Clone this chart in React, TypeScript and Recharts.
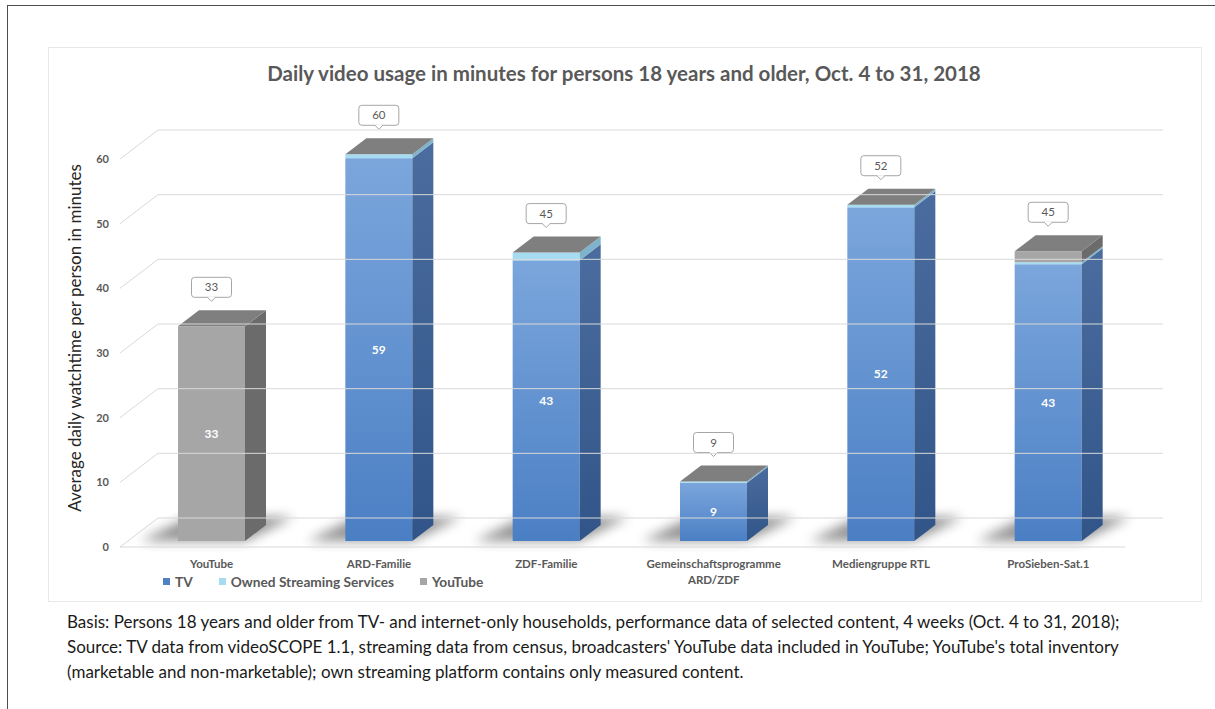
import { Bar, BarChart, XAxis, YAxis } from 'recharts'

const categories = [
	'YouTube',
	'ARD-Familie',
	'ZDF-Familie',
	'Gemeinschaftsprogramme\nARD/ZDF',
	'Mediengruppe RTL',
	'ProSieben-Sat.1',
]
const tvMinutes = [0, 59.2, 43.4, 9.0, 51.6, 42.8]
const ownedStreaming = [0, 0.6, 1.2, 0.2, 0.4, 0.3]
const youtubeMinutes = [33.2, 0, 0, 0, 0, 1.7]
const yTicks = [0, 10, 20, 30, 40, 50, 60]
const seriesNames = ['TV', 'Owned Streaming Services', 'YouTube']

const title = 'Daily video usage in minutes for persons 18 years and older, Oct. 4 to 31, 2018'
const yLabel = 'Average daily watchtime per person in minutes'
const footnote = [
	'Basis: Persons 18 years and older from TV- and internet-only households, performance data of selected content, 4 weeks (Oct. 4 to 31, 2018);',
	"Source: TV data from videoSCOPE 1.1, streaming data from census, broadcasters' YouTube data included in YouTube; YouTube's total inventory",
	'(marketable and non-marketable); own streaming platform contains only measured content.',
]

const data = categories.map((name, i) => ({
	name,
	tv: tvMinutes[i],
	owned: ownedStreaming[i],
	youtube: youtubeMinutes[i],
}))

type Key = 'tv' | 'owned' | 'youtube'
const KEYS: Key[] = ['tv', 'owned', 'youtube']
const DX = 21
const DY = 16
const FONT = 'Lato, "Open Sans", sans-serif'
const GRAY = '#595959'
const GRID = '#d9d9d9'
const FRONT: Record<Key, string> = { tv: 'url(#tvFront)', owned: '#a6dcf2', youtube: '#a6a6a6' }
const SIDE: Record<Key, string> = { tv: 'url(#tvSide)', owned: '#7fb3cb', youtube: '#6b6b6b' }
const LEGEND_COLORS = ['#4f81c4', '#a6dcf2', '#a6a6a6']

const makeShape = (key: Key) => (props: any) => {
	const { x, y, width: w, height: h, payload } = props
	if (!h || h <= 0) return <g />
	const topKey = [...KEYS].reverse().find((k) => payload[k] > 0)
	const bottomKey = KEYS.find((k) => payload[k] > 0)
	const mainKey = KEYS.reduce((a, b) => (payload[b] > payload[a] ? b : a))
	const total = KEYS.reduce((s, k) => s + payload[k], 0)
	const yb = y + h
	const cx = x + w / 2
	const by = y - 29
	return (
		<g>
			{key === bottomKey && (
				<polygon
					points={`${x - 38},${yb} ${x + w},${yb} ${x + w + DX + 28},${yb - 24} ${x + DX - 10},${yb - 24}`}
					fill='#000'
					opacity={0.42}
					filter='url(#shadowBlur)'
				/>
			)}
			<rect x={x} y={y} width={w} height={h} fill={FRONT[key]} />
			<polygon
				points={`${x + w},${y} ${x + w + DX},${y - DY} ${x + w + DX},${yb - DY} ${x + w},${yb}`}
				fill={SIDE[key]}
			/>
			{key === topKey && (
				<g>
					<polygon points={`${x},${y} ${x + DX},${y - DY} ${x + w + DX},${y - DY} ${x + w},${y}`} fill='#7f7f7f' />
					<rect x={cx - 20} y={by - 20} width={40} height={20} rx={3} fill='#fff' stroke='#a6a6a6' />
					<polygon points={`${cx - 4},${by - 0.5} ${cx},${by + 4} ${cx + 4},${by - 0.5}`} fill='#fff' />
					<polyline points={`${cx - 4},${by} ${cx},${by + 4} ${cx + 4},${by}`} fill='none' stroke='#a6a6a6' />
					<text x={cx} y={by - 6} textAnchor='middle' fontSize={11.5} fill={GRAY} fontFamily={FONT}>
						{Math.round(total)}
					</text>
				</g>
			)}
			{key === mainKey && (
				<text
					x={cx}
					y={y + h / 2 + 4}
					textAnchor='middle'
					fontSize={12}
					fontWeight='bold'
					fill='#fff'
					fontFamily={FONT}
				>
					{Math.round(payload[key])}
				</text>
			)}
		</g>
	)
}

const YTick = (props: any) => {
	const { y, payload } = props
	return (
		<g>
			<line x1={120} y1={y + 6} x2={158} y2={y - 23} stroke={GRID} />
			<line x1={158} y1={y - 23} x2={1163} y2={y - 23} stroke={GRID} />
			{payload.value === 0 && <line x1={120} y1={y + 6} x2={1125} y2={y + 6} stroke={GRID} />}
			<text x={109} y={y + 10} textAnchor='end' fontSize={11} fontWeight='bold' fill={GRAY} fontFamily={FONT}>
				{payload.value}
			</text>
		</g>
	)
}

const XTick = (props: any) => {
	const { x, payload } = props
	const lines = String(payload.value).split('\n')
	return (
		<text x={x} y={568} textAnchor='middle' fontSize={11.5} fontWeight='bold' fill={GRAY} fontFamily={FONT}>
			{lines.map((l, i) => (
				<tspan key={i} x={x} dy={i ? 16 : 0}>
					{l}
				</tspan>
			))}
		</text>
	)
}

const App = () => {
	return (
		<div style={{ position: 'absolute', left: 0, top: 0, width: 1215, height: 709, background: '#fff', overflow: 'hidden' }}>
			<div
				style={{
					position: 'absolute',
					left: 7,
					top: 5,
					width: 1215,
					height: 709,
					borderTop: '1px solid #4d4d4d',
					borderLeft: '1px solid #4d4d4d',
				}}
			/>
			<div
				style={{
					position: 'absolute',
					left: 48,
					top: 47,
					width: 1152,
					height: 553,
					border: '1px solid #e8e8e8',
				}}
			/>
			<div
				style={{
					position: 'absolute',
					left: 48,
					top: 61,
					width: 1152,
					textAlign: 'center',
					fontFamily: FONT,
					fontWeight: 'bold',
					fontSize: 20.5,
					color: GRAY,
				}}
			>
				{title}
			</div>
			<div style={{ position: 'absolute', left: 0, top: 0 }}>
				<BarChart width={1215} height={709} data={data} margin={{ top: 153, right: 83, bottom: 138, left: 68 }}>
					<defs>
						<linearGradient id='tvFront' x1='0' y1='0' x2='0' y2='1'>
							<stop offset='0%' stopColor='#7ba6dc' />
							<stop offset='100%' stopColor='#4b7fc4' />
						</linearGradient>
						<linearGradient id='tvSide' x1='0' y1='0' x2='0' y2='1'>
							<stop offset='0%' stopColor='#4a6c9e' />
							<stop offset='100%' stopColor='#325589' />
						</linearGradient>
						<filter id='shadowBlur' x='-50%' y='-100%' width='200%' height='300%'>
							<feGaussianBlur stdDeviation='6' />
						</filter>
					</defs>
					<YAxis
						width={60}
						domain={[0, 60]}
						ticks={yTicks}
						axisLine={false}
						tickLine={false}
						tick={<YTick />}
					/>
					<XAxis dataKey='name' height={30} axisLine={false} tickLine={false} tick={<XTick />} interval={0} />
					<Bar dataKey='tv' stackId='a' barSize={67} isAnimationActive={false} shape={makeShape('tv')} />
					<Bar dataKey='owned' stackId='a' barSize={67} isAnimationActive={false} shape={makeShape('owned')} />
					<Bar dataKey='youtube' stackId='a' barSize={67} isAnimationActive={false} shape={makeShape('youtube')} />
				</BarChart>
			</div>
			<div
				style={{
					position: 'absolute',
					left: 74,
					top: 338,
					transform: 'translate(-50%, -50%) rotate(-90deg)',
					whiteSpace: 'nowrap',
					fontFamily: FONT,
					fontSize: 17,
					color: '#262626',
				}}
			>
				{yLabel}
			</div>
			<div
				style={{
					position: 'absolute',
					left: 163,
					top: 573,
					display: 'flex',
					alignItems: 'center',
					fontFamily: FONT,
					fontWeight: 'bold',
					fontSize: 13.7,
					color: GRAY,
				}}
			>
				{seriesNames.map((n, i) => (
					<div key={n} style={{ display: 'flex', alignItems: 'center', marginRight: 26 }}>
						<span style={{ width: 7, height: 7, background: LEGEND_COLORS[i], marginRight: 5 }} />
						{n}
					</div>
				))}
			</div>
			<div
				style={{
					position: 'absolute',
					left: 67,
					top: 609,
					fontFamily: FONT,
					fontSize: 17,
					lineHeight: '25px',
					color: '#1a1a1a',
					whiteSpace: 'nowrap',
				}}
			>
				{footnote.map((l) => (
					<div key={l}>{l}</div>
				))}
			</div>
		</div>
	)
}

export default App
